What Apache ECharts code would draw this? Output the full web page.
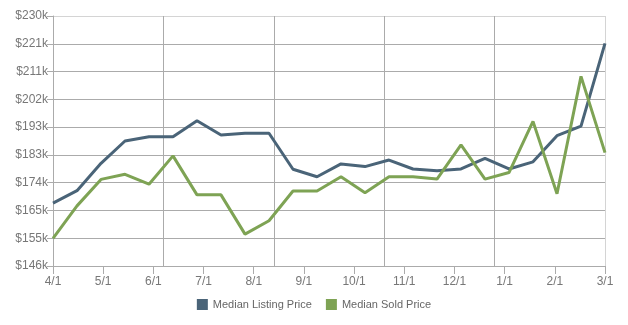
<!DOCTYPE html>
<html>
<head>
<meta charset="utf-8">
<script src="https://cdn.jsdelivr.net/npm/echarts@6/dist/echarts.min.js"></script>
<style>
html,body{margin:0;padding:0;background:#fff;}
#chart{width:628px;height:325px;}
</style>
</head>
<body>
<div id="chart"></div>
<script>
// Data points (semi-monthly), 24 points from 4/1 to 3/1
var periods = ['4/1','4/15','5/1','5/15','6/1','6/15','7/1','7/15','8/1','8/15','9/1','9/15',
               '10/1','10/15','11/1','11/15','12/1','12/15','1/1','1/15','2/1','2/15','3/1','3/15'];
var medianListing = [167.1,171.3,180.5,188.0,189.4,189.4,194.8,190.0,190.6,190.6,178.5,176.0,
                     180.3,179.4,181.6,178.6,178.0,178.6,182.2,178.6,181.0,189.8,193.0,220.8];
var medianSold = [155.3,166.2,175.1,176.8,173.5,183.0,169.9,169.9,156.7,161.2,171.2,171.2,
                  176.0,170.6,176.0,176.0,175.2,186.7,175.2,177.4,194.6,170.3,209.7,184.1];
var monthLabels = ['4/1','5/1','6/1','7/1','8/1','9/1','10/1','11/1','12/1','1/1','2/1','3/1'];
var priceLabels = ['$146k','$155k','$165k','$174k','$183k','$193k','$202k','$211k','$221k','$230k'];
var seriesNames = ['Median Listing Price','Median Sold Price'];

var chart = echarts.init(document.getElementById('chart'));
var gridColor = '#ababab';
var font = 'Liberation Sans, Arial, Helvetica, sans-serif';
chart.setOption({
  animation: false,
  backgroundColor: '#ffffff',
  color: ['#4a6478', '#7ea354'],
  grid: {left: 53, right: 23, top: 16, bottom: 59, containLabel: false},
  legend: {
    bottom: 10, left: 'center',
    itemWidth: 11, itemHeight: 11, itemGap: 14,
    icon: 'rect',
    textStyle: {color: '#666', fontSize: 11, fontFamily: font},
    data: seriesNames
  },
  xAxis: [
    {type: 'category', data: periods, boundaryGap: false, show: false},
    {type: 'value', min: 0, max: monthLabels.length - 1, interval: 1, position: 'bottom',
     axisLine: {show: true, lineStyle: {color: gridColor, width: 1}},
     axisTick: {show: true, length: 8, lineStyle: {color: gridColor}},
     axisLabel: {color: '#777', fontSize: 12, fontFamily: font, margin: 10,
                 formatter: function (v) { return monthLabels[Math.round(v)]; }},
     splitLine: {show: false}},
    {type: 'value', min: 0, max: 5, interval: 1, position: 'bottom',
     axisLine: {show: false}, axisTick: {show: false}, axisLabel: {show: false},
     splitLine: {show: true, lineStyle: {color: [gridColor, gridColor, gridColor, gridColor, gridColor, '#d4d4d4'], width: 1}}}
  ],
  yAxis: [
    {type: 'value', min: 146, max: 230, show: false, position: 'left'},
    {type: 'value', min: 0, max: priceLabels.length - 1, interval: 1, position: 'left', offset: 0,
     axisLine: {show: true, lineStyle: {color: gridColor}},
     axisTick: {show: true, length: 6, lineStyle: {color: gridColor}},
     axisLabel: {color: '#777', fontSize: 12, fontFamily: font, margin: 5,
                 formatter: function (v) { return priceLabels[Math.round(v)]; }},
     splitLine: {show: true, lineStyle: {color: [gridColor, gridColor, gridColor, gridColor, gridColor, gridColor, gridColor, gridColor, gridColor, '#d4d4d4'], width: 1}}}
  ],
  series: [
    {name: seriesNames[0], type: 'line', data: medianListing, xAxisIndex: 0, yAxisIndex: 0,
     showSymbol: false, symbol: 'none', lineStyle: {width: 3}},
    {name: seriesNames[1], type: 'line', data: medianSold, xAxisIndex: 0, yAxisIndex: 0,
     showSymbol: false, symbol: 'none', lineStyle: {width: 3}}
  ]
});
</script>
</body>
</html>
